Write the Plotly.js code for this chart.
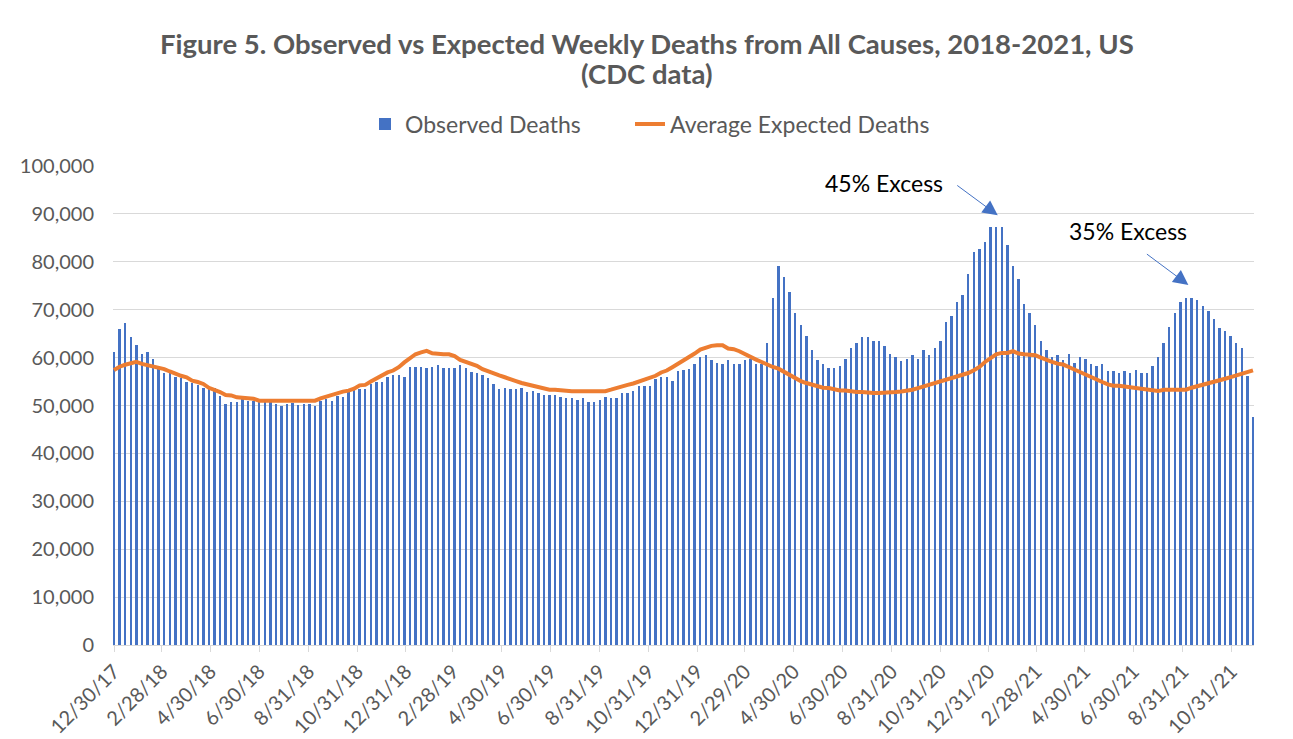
<!DOCTYPE html>
<html>
<head>
<meta charset="utf-8">
<script src="https://cdn.plot.ly/plotly-3.0.1.min.js"></script>
<style>
html,body{margin:0;padding:0;background:#fff;}
#chart{width:1293px;height:739px;}
</style>
</head>
<body>
<div id="chart"></div>
<script>
// Week-ending dates: weekly from 12/30/2017 (205 weeks)
const firstWeekEnding = '2017-12-30';
const weekCount = 205;

// Observed weekly deaths
const observedDeaths = [
  61100, 65900, 67300, 64400, 62600, 60800, 61100, 59700, 57600, 56700,
  56900, 56000, 55700, 54900, 54600, 54200, 53700, 53500, 53700, 51900,
  50400, 50800, 50800, 51900, 51000, 51000, 50700, 51200, 50700, 50400,
  50000, 50400, 50500, 50200,
  50350, 50350, 50000, 51040, 51390, 50900, 52080, 51870, 52980, 53470,
  53470, 53470, 54510, 54850, 54850, 55890, 56450, 56450, 55890, 58110,
  58110, 58110, 57770, 58110, 58530, 57770, 57770, 57770, 58530, 57770,
  57070, 56720, 56380, 55680, 54510,
  53470, 53680, 53470, 53470, 53680, 52770, 53120, 52640, 52220, 52220,
  52220, 51870, 51520, 51520, 51180, 51520, 50830, 50830, 51180, 51870,
  51520, 51520, 52640, 52640, 53120, 54160, 54160, 54160, 55540, 55890,
  55890, 55200, 57100, 57500,
  57550, 58600, 60140, 60490, 59440, 58950, 58600, 59440, 58600, 58600,
  59440, 59790, 58600, 58740, 63080, 72380, 79020, 76780, 73780, 69370,
  66780, 64550, 61680, 59440, 58600, 57900, 57900, 58250, 59790, 62030,
  63150, 64200, 64200, 63500,
  63430, 62380, 60840, 60140, 59300, 59790, 60490, 59790, 61540, 60490,
  62030, 63430, 67480, 68670, 71540, 73080, 77480, 82030, 82730, 84200,
  87200, 87200, 87200, 83430, 79020, 76430, 71190, 69370, 66780, 63430,
  61540, 60140, 60490, 59440,
  60840, 58950, 60140, 59790, 58600, 58250, 58600, 57130, 57130, 56780,
  57130, 56780, 57480, 56780, 56780, 58250, 60140, 63150, 66430, 69370,
  71540, 72380, 72380, 72030, 70840, 69720, 67970, 66080, 65590, 64550,
  63150, 62100, 56080, 47550
];

// Average expected weekly deaths
const expectedDeaths = [
  57400, 58100, 58500, 58800, 59100, 58700, 58400, 58300, 58000, 57600,
  57100, 56600, 56200, 55900, 55200, 54900, 54500, 53700, 53300, 52800,
  52200, 52100, 51700, 51500, 51500, 51400, 51000, 51000, 51000, 51000,
  51000, 51000, 51000, 51000,
  51000, 51000, 51000, 51500, 51900, 52200, 52600, 52900, 53100, 53500,
  54200, 54300, 55000, 55700, 56200, 56900, 57300, 58000, 59000, 59900,
  60700, 61100, 61400, 60900, 60700, 60700, 60700, 60300, 59500, 59100,
  58800, 58300, 57600, 57100, 56700,
  56300, 55900, 55400, 55100, 54700, 54400, 54000, 53700, 53500, 53300,
  53300, 53300, 53100, 53000, 53000, 53000, 53000, 53000, 53000, 53000,
  53300, 53700, 54000, 54300, 54600, 55000, 55300, 55700, 56200, 56900,
  57300, 58000, 58700, 59350,
  60000, 60840, 61680, 62100, 62450, 62590, 62590, 61890, 61750, 61330,
  60700, 60280, 59580, 59090, 58530, 58040, 57690, 56990, 56290, 55800,
  55100, 54690, 54340, 53990, 53710, 53640, 53290, 53150, 53150, 52940,
  52800, 52800, 52590, 52590,
  52590, 52590, 52590, 52800, 52940, 53010, 53290, 53640, 53990, 54340,
  54550, 54900, 55240, 55590, 55940, 56290, 56780, 57340, 58040, 59090,
  60000, 60700, 60980, 60980, 61330, 60840, 60700, 60700, 60490, 60000,
  59440, 59090, 58740, 58550,
  58040, 57480, 56990, 56500, 55940, 55450, 54900, 54410, 54130, 54130,
  53990, 53780, 53640, 53500, 53500, 53360, 53010, 53290, 53290, 53290,
  53290, 53290, 53710, 53990, 54340, 54550, 54900, 55240, 55590, 55940,
  56290, 56640, 56990, 57340
];

// Axis tick dates and labels
const tickDates = ['2017-12-30','2018-02-28','2018-04-30','2018-06-30','2018-08-31','2018-10-31',
  '2018-12-31','2019-02-28','2019-04-30','2019-06-30','2019-08-31','2019-10-31',
  '2019-12-31','2020-02-29','2020-04-30','2020-06-30','2020-08-31','2020-10-31',
  '2020-12-31','2021-02-28','2021-04-30','2021-06-30','2021-08-31','2021-10-31'];
const tickLabels = ['12/30/17','2/28/18','4/30/18','6/30/18','8/31/18','10/31/18',
  '12/31/18','2/28/19','4/30/19','6/30/19','8/31/19','10/31/19',
  '12/31/19','2/29/20','4/30/20','6/30/20','8/31/20','10/31/20',
  '12/31/20','2/28/21','4/30/21','6/30/21','8/31/21','10/31/21'];

const seriesNames = ['Observed Deaths', 'Average Expected Deaths'];
const titleLines = ['Figure 5. Observed vs Expected Weekly Deaths from All Causes, 2018-2021, US', '(CDC data)'];
const calloutLabels = ['45% Excess', '35% Excess'];

// Build week-ending dates
const weekDates = [];
const start = new Date(firstWeekEnding + 'T00:00:00Z');
for (let i = 0; i < weekCount; i++) {
  const d = new Date(start.getTime() + i * 7 * 86400000);
  weekDates.push(d.toISOString().slice(0, 10));
}

const FONT = 'Lato, "Open Sans", sans-serif';
const GRAY = '#595959';
const legendY = 1 + (166 - 124) / 479;

const traces = [
  {
    type: 'bar',
    name: seriesNames[0],
    x: weekDates,
    y: observedDeaths,
    width: 3 * 86400000,
    marker: { color: '#4472C4', line: { width: 0 } },
    legend: 'legend',
    hoverinfo: 'x+y'
  },
  {
    type: 'scatter',
    mode: 'lines',
    name: seriesNames[1],
    x: weekDates,
    y: expectedDeaths,
    line: { color: '#ED7D31', width: 4, shape: 'linear' },
    legend: 'legend2',
    hoverinfo: 'x+y'
  }
];

const layout = {
  width: 1293,
  height: 739,
  margin: { l: 113, r: 39, t: 166, b: 94 },
  paper_bgcolor: '#ffffff',
  plot_bgcolor: '#ffffff',
  font: { family: FONT, color: GRAY, size: 16 },
  showlegend: true,
  legend: {
    orientation: 'h',
    x: (365 - 113) / 1141, xanchor: 'left',
    y: legendY, yanchor: 'middle',
    font: { family: FONT, size: 23, color: GRAY }
  },
  legend2: {
    orientation: 'h',
    x: (630 - 113) / 1141, xanchor: 'left',
    y: legendY, yanchor: 'middle',
    font: { family: FONT, size: 23, color: GRAY }
  },
  bargap: 0,
  xaxis: {
    type: 'date',
    range: ['2017-12-28 18:00', '2021-11-28 06:00'],
    tickmode: 'array',
    tickvals: tickDates,
    ticktext: tickLabels,
    tickangle: -45,
    ticks: 'outside',
    ticklen: 6,
    tickcolor: '#D9D9D9',
    showgrid: false,
    showline: true,
    linecolor: '#D9D9D9',
    linewidth: 1,
    zeroline: false,
    tickfont: { family: FONT, size: 20, color: GRAY }
  },
  yaxis: {
    range: [0, 100000],
    tickmode: 'linear',
    tick0: 0,
    dtick: 10000,
    tickformat: ',d',
    showgrid: true,
    gridcolor: '#D9D9D9',
    gridwidth: 1,
    zeroline: false,
    showline: false,
    ticks: '',
    ticklabelstandoff: 18,
    tickfont: { family: FONT, size: 20, color: GRAY }
  },
  annotations: [
    {
      xref: 'paper', yref: 'paper', x: (647 - 113) / 1141, y: 1 + (166 - 43) / 479,
      text: '<b>' + titleLines[0] + '</b>', showarrow: false,
      font: { family: FONT, size: 27.5, color: GRAY },
      xanchor: 'center', yanchor: 'middle'
    },
    {
      xref: 'paper', yref: 'paper', x: (647 - 113) / 1141, y: 1 + (166 - 74) / 479,
      text: '<b>' + titleLines[1] + '</b>', showarrow: false,
      font: { family: FONT, size: 27.5, color: GRAY },
      xanchor: 'center', yanchor: 'middle'
    },
    {
      xref: 'x', yref: 'y', x: '2020-08-21', y: 96450,
      text: calloutLabels[0], showarrow: false,
      font: { family: FONT, size: 23, color: '#000000' },
      xanchor: 'center', yanchor: 'middle'
    },
    {
      xref: 'x', yref: 'y', x: '2021-01-11', y: 89700,
      text: '', showarrow: true, ax: -42, ay: -31,
      arrowhead: 2, arrowsize: 3, arrowwidth: 1, arrowcolor: '#4472C4', standoff: 0
    },
    {
      xref: 'x', yref: 'y', x: '2021-06-23', y: 86430,
      text: calloutLabels[1], showarrow: false,
      font: { family: FONT, size: 23, color: '#000000' },
      xanchor: 'center', yanchor: 'middle'
    },
    {
      xref: 'x', yref: 'y', x: '2021-09-07', y: 75160,
      text: '', showarrow: true, ax: -43, ay: -32,
      arrowhead: 2, arrowsize: 3, arrowwidth: 1, arrowcolor: '#4472C4', standoff: 0
    }
  ]
};

Plotly.newPlot('chart', traces, layout, { displayModeBar: false, staticPlot: true });
</script>
</body>
</html>
